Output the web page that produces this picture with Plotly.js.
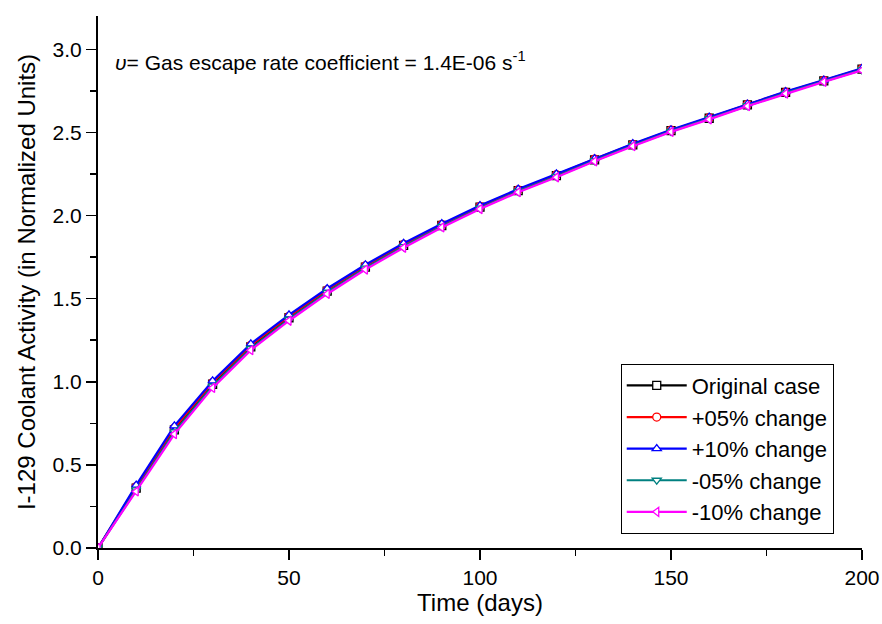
<!DOCTYPE html>
<html>
<head>
<meta charset="utf-8">
<script src="https://cdn.plot.ly/plotly-3.0.1.min.js"></script>
<style>html,body{margin:0;padding:0;background:#fff;}#chart{width:882px;height:624px;}</style>
</head>
<body>
<div id="chart"></div>
<script>
const days = [0,10,20,30,40,50,60,70,80,90,100,110,120,130,140,150,160,170,180,190,200];
const originalCase = [0,0.360,0.710,0.985,1.210,1.385,1.545,1.690,1.820,1.940,2.050,2.150,2.240,2.335,2.425,2.510,2.585,2.665,2.740,2.810,2.880];
const plus05 = [0,0.369,0.722,0.995,1.219,1.393,1.553,1.697,1.826,1.945,2.055,2.154,2.245,2.339,2.428,2.513,2.588,2.668,2.742,2.812,2.883];
const plus10 = [0,0.378,0.735,1.005,1.228,1.402,1.561,1.704,1.833,1.951,2.060,2.159,2.250,2.343,2.432,2.516,2.592,2.671,2.745,2.815,2.886];
const minus05 = [0,0.350,0.698,0.974,1.200,1.376,1.537,1.683,1.813,1.934,2.044,2.145,2.235,2.330,2.421,2.506,2.582,2.661,2.736,2.807,2.876];
const minus10 = [0,0.340,0.685,0.963,1.190,1.367,1.528,1.675,1.806,1.928,2.039,2.140,2.230,2.326,2.417,2.503,2.578,2.658,2.733,2.804,2.873];
const seriesNames = ['Original case','+05% change','+10% change','-05% change','-10% change'];
const seriesData = [originalCase, plus05, plus10, minus05, minus10];
const seriesColors = ['#000000','#ff0000','#0000ff','#008080','#ff00ff'];
const seriesSymbols = ['square','circle','triangle-up','triangle-down','triangle-left'];
const noteText = '<i>υ</i>= Gas escape rate coefficient = 1.4E-06 s<sup>-1</sup>';

const traces = seriesData.map((ys, i) => ({
  x: days, y: ys, name: seriesNames[i], type: 'scatter', mode: 'lines+markers',
  line: {color: seriesColors[i], width: 2.2},
  marker: {symbol: seriesSymbols[i], size: 8, color: '#ffffff', line: {color: seriesColors[i], width: 1.3}}
}));

const fontFam = 'Arial, "Liberation Sans", sans-serif';
const layout = {
  width: 882, height: 624,
  margin: {l: 98, r: 20, t: 16, b: 76},
  paper_bgcolor: '#ffffff', plot_bgcolor: '#ffffff',
  font: {family: fontFam, color: '#000', size: 21},
  showlegend: true,
  legend: {x: 0.963, xanchor: 'right', y: 0.027, yanchor: 'bottom', bordercolor: '#000', borderwidth: 1,
           bgcolor: '#ffffff', font: {size: 22, family: fontFam}, tracegroupgap: 0, itemwidth: 60},
  xaxis: {range: [0, 200], dtick: 50, ticks: 'outside', ticklen: 10, tickwidth: 1.5, tickcolor: '#000',
          showline: true, linewidth: 2, linecolor: '#000', showgrid: false, zeroline: false,
          minor: {dtick: 25, ticks: 'outside', ticklen: 6, tickwidth: 1.5, tickcolor: '#000', showgrid: false},
          tickfont: {size: 21}, title: {text: 'Time (days)', font: {size: 24}, standoff: 2}},
  yaxis: {range: [0, 3.2], dtick: 0.5, tickformat: '.1f', ticks: 'outside', ticklen: 10, tickwidth: 1.5, tickcolor: '#000',
          showline: true, linewidth: 2, linecolor: '#000', showgrid: false, zeroline: false,
          minor: {dtick: 0.25, ticks: 'outside', ticklen: 6, tickwidth: 1.5, tickcolor: '#000', showgrid: false},
          tickfont: {size: 21}, title: {text: 'I-129 Coolant Activity (in Normalized Units)', font: {size: 24}, standoff: 10}},
  xaxis2: {overlaying: 'x', side: 'top', range: [0, 200], dtick: 50, ticks: 'inside', ticklen: 5, tickwidth: 1.5,
           tickcolor: '#000', showticklabels: false, showline: true, linewidth: 2, linecolor: '#000', showgrid: false, zeroline: false,
           minor: {dtick: 25, ticks: 'inside', ticklen: 4, tickwidth: 1.5, tickcolor: '#000', showgrid: false}},
  yaxis2: {overlaying: 'y', side: 'right', range: [0, 3.2], dtick: 0.5, ticks: 'inside', ticklen: 7, tickwidth: 1.5,
           tickcolor: '#000', showticklabels: false, showline: true, linewidth: 2, linecolor: '#000', showgrid: false, zeroline: false,
           minor: {dtick: 0.25, ticks: 'inside', ticklen: 5, tickwidth: 1.5, tickcolor: '#000', showgrid: false}},
  annotations: [{text: noteText, xref: 'paper', yref: 'paper', x: 0.02, y: 0.915, xanchor: 'left', yanchor: 'middle',
                 showarrow: false, font: {size: 21, family: fontFam}}]
};

Plotly.newPlot('chart', traces, layout, {displayModeBar: false, staticPlot: true});
</script>
</body>
</html>
